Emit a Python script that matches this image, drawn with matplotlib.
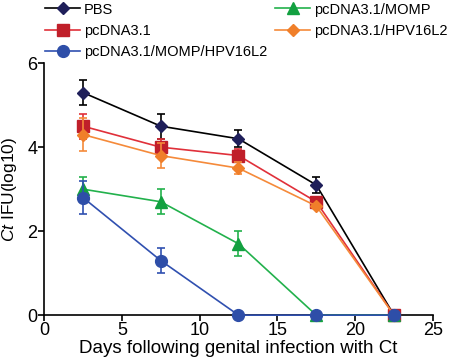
import matplotlib
matplotlib.use("Agg")
import matplotlib.pyplot as plt

plt.rcParams["font.family"] = ["Liberation Sans", "DejaVu Sans"]
plt.rcParams["mathtext.fontset"] = "custom"
plt.rcParams["mathtext.it"] = "Liberation Sans:italic"
plt.rcParams["mathtext.rm"] = "Liberation Sans"

days = [2.5, 7.5, 12.5, 17.5, 22.5]

pbs = [5.3, 4.5, 4.2, 3.1, 0.0]
pbs_err = [0.3, 0.3, 0.2, 0.2, 0.0]

pc = [4.5, 4.0, 3.8, 2.7, 0.0]
pc_err = [0.3, 0.2, 0.15, 0.1, 0.0]

momp = [3.0, 2.7, 1.7, 0.0, 0.0]
momp_err = [0.3, 0.3, 0.3, 0.0, 0.0]

l2 = [4.3, 3.8, 3.5, 2.6, 0.0]
l2_err = [0.4, 0.3, 0.15, 0.05, 0.0]

combo = [2.8, 1.3, 0.0, 0.0, 0.0]
combo_err = [0.4, 0.3, 0.0, 0.0, 0.0]

# (label, values, errors, line colour, marker colour, marker, size)
series = [
    ("PBS", pbs, pbs_err, "#000000", "#1f1f5a", "D", 6.5),
    ("pcDNA3.1", pc, pc_err, "#e0303a", "#c01f2a", "s", 8),
    ("pcDNA3.1/MOMP", momp, momp_err, "#22b14c", "#12a040", "^", 8),
    ("pcDNA3.1/HPV16L2", l2, l2_err, "#f58a3a", "#f07f2a", "D", 6.5),
    ("pcDNA3.1/MOMP/HPV16L2", combo, combo_err, "#3050b0", "#2e4ea8", "o", 8.5),
]

fig = plt.figure(figsize=(4.5, 3.61), dpi=100)
ax = fig.add_axes([0.098, 0.127, 0.864, 0.698])

handles = {}
for i, (name, y, err, lc, mc, mk, ms) in enumerate(series):
    h = ax.errorbar(days, y, yerr=err, color=lc, ecolor=lc, lw=1.2,
                    elinewidth=1.2, capsize=3, capthick=1.2,
                    marker=mk, ms=ms, mfc=mc, mec=mc, clip_on=False,
                    zorder=3 + i)
    handles[name] = h[0]

ax.set_xlim(0, 25)
ax.set_ylim(0, 6)
ax.set_xticks([0, 5, 10, 15, 20, 25])
ax.set_yticks([0, 2, 4, 6])
ax.spines["top"].set_visible(False)
ax.spines["right"].set_visible(False)
for s in ("left", "bottom"):
    ax.spines[s].set_linewidth(1.2)
ax.tick_params(direction="out", length=4, width=1.2, labelsize=13, pad=1)

ax.set_xlabel("Days following genital infection with Ct", fontsize=13.5, labelpad=1)
ax.set_ylabel(r"$\it{Ct}$ IFU(log10)", fontsize=12.5, labelpad=6)

# legend: two hand-placed columns
left = ["PBS", "pcDNA3.1", "pcDNA3.1/MOMP/HPV16L2"]
right = ["pcDNA3.1/MOMP", "pcDNA3.1/HPV16L2"]
kw = dict(loc="upper left", frameon=False, fontsize=10.5, handlelength=2.4,
          handletextpad=0.25, labelspacing=0.5, borderpad=0, borderaxespad=0)
fig.legend([handles[n] for n in left], left,
           bbox_to_anchor=(0.1, 0.993), **kw)
fig.legend([handles[n] for n in right], right,
           bbox_to_anchor=(0.612, 0.993), **kw)

fig.savefig("out.png", dpi=100)
